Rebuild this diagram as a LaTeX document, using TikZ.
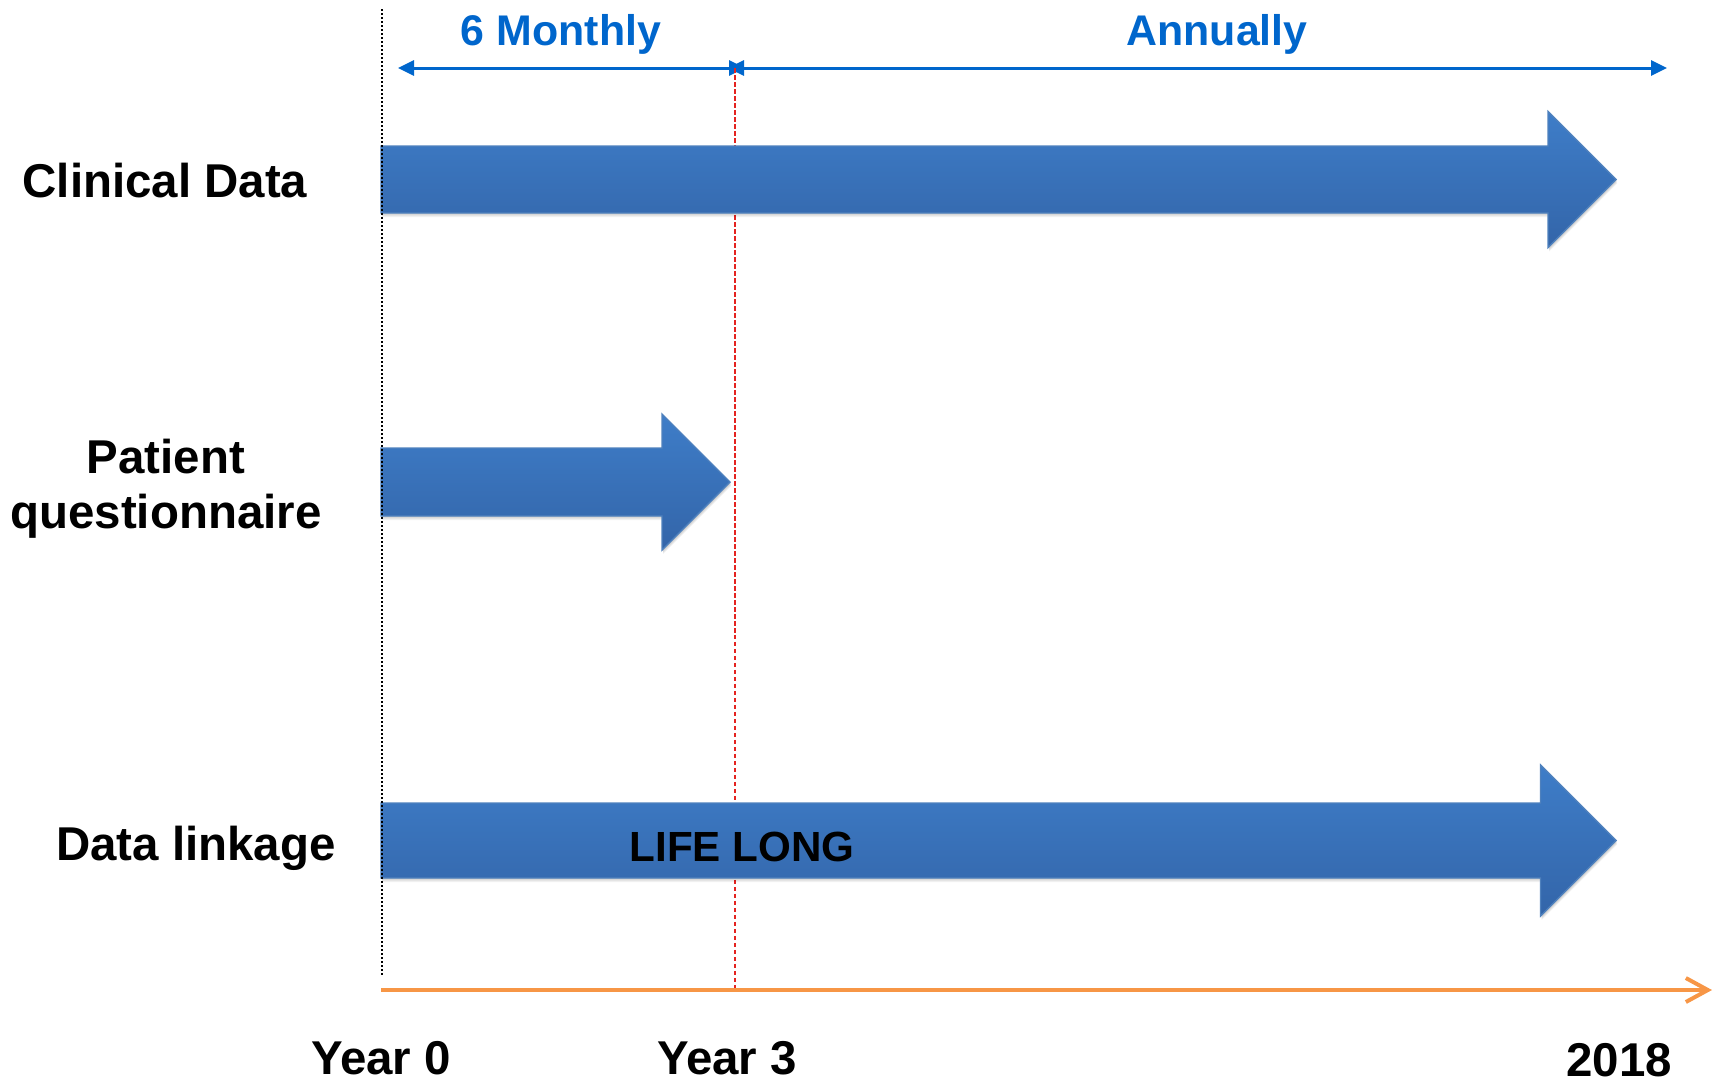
\documentclass[tikz,border=0pt]{standalone}
\usepackage{fontspec}
\setmainfont{Liberation Sans}
\usetikzlibrary{arrows.meta}

\definecolor{monthblue}{HTML}{0066CC}
\definecolor{bartop}{HTML}{3E7DC8}
\definecolor{barbottom}{HTML}{3365A9}
\definecolor{baredge}{HTML}{4F81BD}
\definecolor{axisorange}{HTML}{F79646}
\definecolor{cutred}{HTML}{E42320}

% block arrow: tail x, centre y, tip x, half shaft, half head
\newcommand{\timebar}[5]{%
  \foreach \s in {1,...,4}
    \fill[black, opacity=0.05, shift={(1,\s)}] (#1,{#2-#4}) -- ({#3-#5},{#2-#4}) -- ({#3-#5},{#2-#5})
      -- (#3,#2) -- ({#3-#5},{#2+#5}) -- ({#3-#5},{#2+#4}) -- (#1,{#2+#4}) -- cycle;
  \path[bar] (#1,{#2-#4}) -- ({#3-#5},{#2-#4}) -- ({#3-#5},{#2-#5})
      -- (#3,#2) -- ({#3-#5},{#2+#5}) -- ({#3-#5},{#2+#4}) -- (#1,{#2+#4}) -- cycle;
}

\begin{document}
\begin{tikzpicture}[x=0.1mm, y=-0.1mm,
  every node/.style={font=\bfseries\fontsize{13.5}{14.2}\selectfont, inner sep=0pt, anchor=base},
  rate/.style={font=\bfseries\fontsize{12.2}{14}\selectfont, text=monthblue},
  period/.style={monthblue, line width=0.3mm,
    {Triangle[length=1.6mm,width=1.5mm]}-{Triangle[length=1.6mm,width=1.5mm]}},
  bar/.style={top color=bartop, bottom color=barbottom, draw=baredge, line width=0.4pt}]
\useasboundingbox (0,0) rectangle (1717,1081);

\coordinate (startTop) at (382,9);
\coordinate (startBot) at (382,975);
\coordinate (cutTop) at (735,68);
\coordinate (cutBot) at (735,990);
\coordinate (sixL) at (398,68);
\coordinate (sixR) at (745,68);
\coordinate (annL) at (728,68);
\coordinate (annR) at (1667,68);
\coordinate (axisL) at (381,990);
\coordinate (axisR) at (1712,990);

\node[rate] (six) at (561,45) {6 Monthly};
\node[rate] (ann) at (1217,45) {Annually};
\draw[period] (sixL) -- (sixR);
\draw[period] (annL) -- (annR);

\draw[cutred, line width=0.2mm, dash pattern=on 0.45mm off 0.25mm] (cutTop) -- (cutBot);

\timebar{381}{179.5}{1616}{33.5}{68}
\timebar{381}{482}{730}{34}{68}
\timebar{381}{840.5}{1616}{37.5}{75.5}

\draw[black, line width=0.2mm, dash pattern=on 0.2mm off 0.2mm] (startTop) -- (startBot);

\node (clin) at (165,197) {Clinical Data};
\node[align=center, font=\bfseries\fontsize{13.5}{15.4}\selectfont] (pat) at (166,528) {Patient\\questionnaire};
\node (link) at (196,860) {Data linkage};
\node[font=\bfseries\fontsize{12}{14}\selectfont] (life) at (742,861) {LIFE LONG};

\draw[axisorange, line width=0.4mm, -{Straight Barb[length=2.2mm,width=2.4mm]}] (axisL) -- (axisR);

\node (yr0) at (381,1074) {Year 0};
\node (yr3) at (727,1074) {Year 3};
\node (yrEnd) at (1619,1076) {2018};
\end{tikzpicture}
\end{document}
